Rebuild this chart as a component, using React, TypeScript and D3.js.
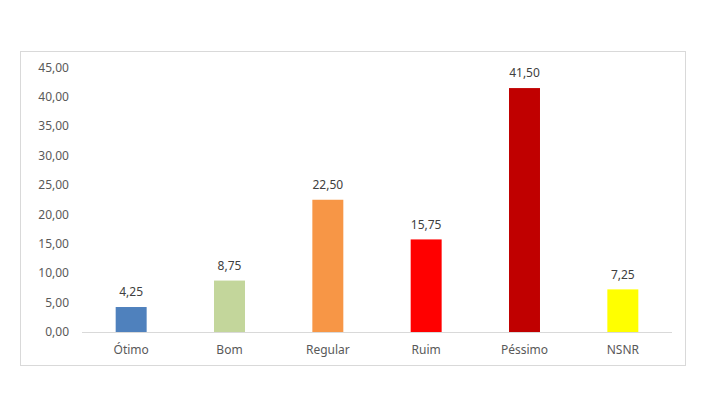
import React from 'react';
import * as d3 from 'd3';

// categories and values
const categories = ['Ótimo', 'Bom', 'Regular', 'Ruim', 'Péssimo', 'NSNR'];
const values = [4.25, 8.75, 22.5, 15.75, 41.5, 7.25];
const barColors = ['#4F81BD', '#C3D69B', '#F79646', '#FF0000', '#C00000', '#FFFF00'];
const yTicks = [0, 5, 10, 15, 20, 25, 30, 35, 40, 45];

const W = 716;
const H = 411;
const frame = {x: 20.5, y: 51.5, w: 665, h: 314};
const plot = {left: 82, right: 672, top: 67.5, bottom: 332};

const fmt = (v: number) => v.toFixed(2).replace('.', ',');
const font = '"Noto Sans", "Open Sans", sans-serif';

const App: React.FC = () => {
  const x = d3
    .scaleBand<string>()
    .domain(categories)
    .range([plot.left, plot.right])
    .paddingInner(0.685)
    .paddingOuter(0.3425);
  const y = d3.scaleLinear().domain([0, 45]).range([plot.bottom, plot.top]);

  return (
    <svg
      width={W}
      height={H}
      style={{position: 'absolute', left: 0, top: 0}}
      fontFamily={font}
    >
      <rect x={0} y={0} width={W} height={H} fill="#fff" />
      <rect
        x={frame.x}
        y={frame.y}
        width={frame.w}
        height={frame.h}
        fill="#fff"
        stroke="#d9d9d9"
        strokeWidth={1}
      />
      {/* y axis labels */}
      {yTicks.map((t) => (
        <text
          key={t}
          x={69}
          y={y(t)}
          dy="0.35em"
          textAnchor="end"
          fontSize={12}
          fill="#595959"
        >
          {fmt(t)}
        </text>
      ))}
      {/* bars */}
      {categories.map((c, i) => (
        <rect
          key={c}
          x={x(c)}
          y={y(values[i])}
          width={x.bandwidth()}
          height={y(0) - y(values[i])}
          fill={barColors[i]}
        />
      ))}
      {/* axis line */}
      <line
        x1={plot.left}
        x2={plot.right}
        y1={y(0) + 0.5}
        y2={y(0) + 0.5}
        stroke="#d9d9d9"
        strokeWidth={1}
      />
      {/* value labels */}
      {categories.map((c, i) => (
        <text
          key={c}
          x={(x(c) as number) + x.bandwidth() / 2}
          y={y(values[i]) - 15}
          dy="0.35em"
          textAnchor="middle"
          fontSize={12}
          fill="#404040"
        >
          {fmt(values[i])}
        </text>
      ))}
      {/* category labels */}
      {categories.map((c) => (
        <text
          key={c}
          x={(x(c) as number) + x.bandwidth() / 2}
          y={350}
          dy="0.35em"
          textAnchor="middle"
          fontSize={12}
          fill="#595959"
        >
          {c}
        </text>
      ))}
    </svg>
  );
};

export default App;
